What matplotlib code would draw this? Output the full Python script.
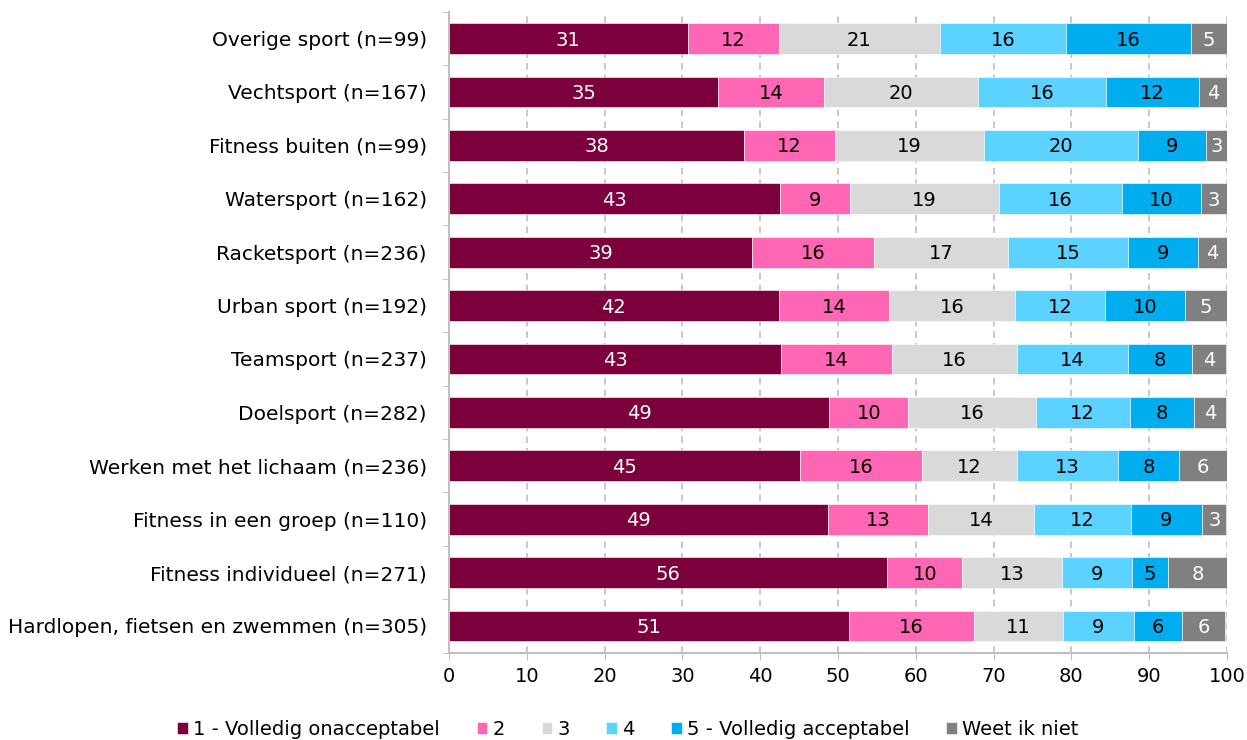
import matplotlib.pyplot as plt
import numpy as np

# categories, top to bottom
categories = [
    "Overige sport (n=99)",
    "Vechtsport (n=167)",
    "Fitness buiten (n=99)",
    "Watersport (n=162)",
    "Racketsport (n=236)",
    "Urban sport (n=192)",
    "Teamsport (n=237)",
    "Doelsport (n=282)",
    "Werken met het lichaam (n=236)",
    "Fitness in een groep (n=110)",
    "Fitness individueel (n=271)",
    "Hardlopen, fietsen en zwemmen (n=305)",
]

series_names = ["1 - Volledig onacceptabel", "2", "3", "4",
                "5 - Volledig acceptabel", "Weet ik niet"]

s1 = [30.7, 34.6, 37.9, 42.6, 39.0, 42.4, 42.7, 48.9, 45.1, 48.7, 56.3, 51.4]
s2 = [11.7, 13.6, 11.7, 9.0, 15.6, 14.2, 14.2, 10.1, 15.7, 12.9, 9.7, 16.1]
s3 = [20.7, 19.8, 19.2, 19.1, 17.3, 16.1, 16.1, 16.4, 12.2, 13.6, 12.8, 11.4]
s4 = [16.2, 16.4, 19.8, 15.8, 15.4, 11.6, 14.3, 12.1, 13.0, 12.4, 9.0, 9.1]
s5 = [16.1, 12.0, 8.7, 10.1, 9.0, 10.3, 8.2, 8.2, 7.8, 9.2, 4.6, 6.2]
s6 = [4.6, 3.6, 2.7, 3.4, 3.7, 5.4, 4.4, 4.2, 6.2, 3.1, 7.6, 5.6]

colors = ["#7B003C", "#FF66B4", "#D9D9D9", "#5BD2FF", "#00AEEF", "#808080"]
text_colors = ["white", "black", "black", "black", "black", "white"]

fig, ax = plt.subplots(figsize=(12.47, 7.40), dpi=100)
fig.subplots_adjust(left=0.36, right=0.984, top=0.984, bottom=0.118)

y = np.arange(len(categories))
left = np.zeros(len(categories))
for vals, name, col, tcol in zip([s1, s2, s3, s4, s5, s6], series_names,
                                 colors, text_colors):
    vals = np.array(vals)
    ax.barh(y, vals, left=left, height=0.575, color=col, label=name,
            edgecolor="white", linewidth=0.4, zorder=3)
    for yi, l, v in zip(y, left, vals):
        ax.text(l + v / 2, yi + 0.03, f"{v:.0f}", ha="center", va="center",
                color=tcol, fontsize=14, zorder=4)
    left += vals

ax.set_ylim(len(categories) - 0.5, -0.5)
ax.set_xlim(0, 100)
ax.set_xticks(np.arange(0, 101, 10))
ax.set_yticks(y)
ax.set_yticklabels(categories, fontsize=14.5)
ax.tick_params(axis="y", length=0, pad=16)
ax.tick_params(axis="x", labelsize=14, color="#BFBFBF", length=5, pad=5)
ax.set_yticks(np.arange(-0.5, len(categories) + 0.5, 1), minor=True)
ax.tick_params(axis="y", which="minor", length=5, color="#BFBFBF")

ax.grid(axis="x", linestyle=(0, (4, 3)), color="#BFBFBF", linewidth=1.2, zorder=0)
for side in ["top", "right"]:
    ax.spines[side].set_visible(False)
for side in ["left", "bottom"]:
    ax.spines[side].set_color("#BFBFBF")
    ax.spines[side].set_linewidth(1.5)

ax.legend(loc="upper center", bbox_to_anchor=(0.23, -0.078), ncol=6,
          frameon=False, fontsize=14, handlelength=0.55, handleheight=0.55,
          handletextpad=0.25, columnspacing=1.9)

plt.savefig("out.png", dpi=100)
